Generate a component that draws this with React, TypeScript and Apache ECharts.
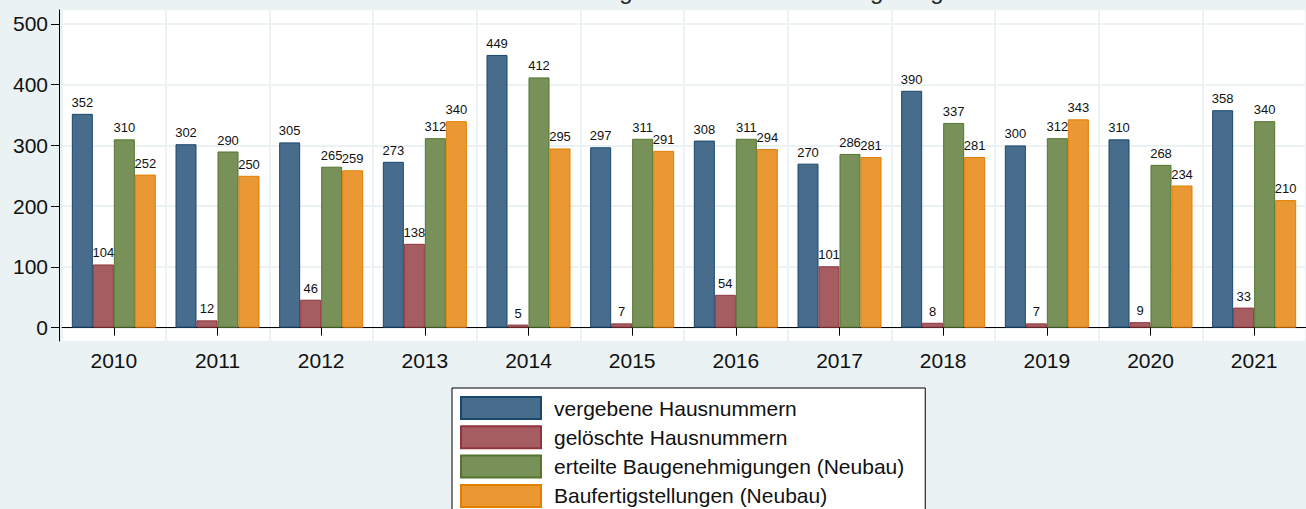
import React, { useEffect, useRef } from "react";
import * as echarts from "echarts";

const years = ["2010", "2011", "2012", "2013", "2014", "2015", "2016", "2017", "2018", "2019", "2020", "2021"];
const vergebene = [352, 302, 305, 273, 449, 297, 308, 270, 390, 300, 310, 358];
const geloeschte = [104, 12, 46, 138, 5, 7, 54, 101, 8, 7, 9, 33];
const baugenehmigungen = [310, 290, 265, 312, 412, 311, 311, 286, 337, 312, 268, 340];
const baufertigstellungen = [252, 250, 259, 340, 295, 291, 294, 281, 281, 343, 234, 210];
const yTicks = [0, 100, 200, 300, 400, 500];
const seriesNames = [
  "vergebene Hausnummern",
  "gelöschte Hausnummern",
  "erteilte Baugenehmigungen (Neubau)",
  "Baufertigstellungen (Neubau)",
];
const titleText = "Hausnummernvergabe und Neubau in Augsburg";

const FONT = "'Liberation Sans', Arial, Helvetica, sans-serif";
const fills = ["#486c8c", "#a65d62", "#779159", "#e99833"];
const borders = ["#1a476f", "#90353b", "#55752f", "#e37e00"];

export default function App() {
  const ref = useRef<HTMLDivElement>(null);
  useEffect(() => {
    if (!ref.current) return;
    const chart = echarts.init(ref.current, null, { renderer: "svg" });
    const datasets = [vergebene, geloeschte, baugenehmigungen, baufertigstellungen];
    chart.setOption({
      animation: false,
      backgroundColor: "#eaf2f3",
      textStyle: { fontFamily: FONT },
      grid: {
        left: 62,
        right: -9,
        top: 10,
        bottom: 168,
        show: true,
        backgroundColor: "#ffffff",
        borderWidth: 0,
        containLabel: false,
      },
      graphic: [
        {
          type: "text",
          x: 686,
          y: 2,
          style: {
            text: titleText,
            font: `24px ${FONT}`,
            fill: "#222",
            textAlign: "center",
            textVerticalAlign: "bottom",
            verticalAlign: "bottom",
          },
        },
      ],
      legend: {
        orient: "vertical",
        left: 452,
        top: 388,
        height: 300,
        backgroundColor: "#ffffff",
        borderColor: "#000",
        borderWidth: 1,
        borderRadius: 0,
        padding: [8, 21, 9, 8],
        itemWidth: 80,
        itemHeight: 22,
        itemGap: 5.3,
        icon: "rect",
        selectedMode: false,
        textStyle: { fontSize: 21, lineHeight: 22, color: "#111", fontFamily: FONT, padding: [0, 0, 0, 8] },
        data: seriesNames,
      },
      xAxis: {
        type: "category",
        data: years,
        axisLine: { show: true, lineStyle: { color: "#000", width: 1 } },
        axisTick: { show: true, alignWithLabel: true, length: 8, lineStyle: { color: "#000" } },
        axisLabel: { fontSize: 21, color: "#111", margin: 9, fontFamily: FONT },
        splitLine: { show: true, interval: 0, lineStyle: { color: "#eaf2f3", width: 2 } },
      },
      yAxis: {
        type: "value",
        min: -22,
        max: 523,
        offset: 3,
        axisLine: { show: true, lineStyle: { color: "#000", width: 1 } },
        axisTick: { show: true, length: 8, customValues: yTicks, lineStyle: { color: "#000" } },
        axisLabel: { fontSize: 21, color: "#111", margin: 11, customValues: yTicks, fontFamily: FONT },
        splitLine: { show: true, lineStyle: { color: "#eaf2f3", width: 2 } },
      },
      series: datasets.map((d, i) => ({
        name: seriesNames[i],
        type: "bar",
        data: d,
        barWidth: 21,
        barGap: "0%",
        itemStyle: { color: fills[i], borderColor: borders[i], borderWidth: 1 },
        label: {
          show: true,
          position: "top",
          distance: 5,
          fontSize: 13,
          color: "#111",
          fontFamily: FONT,
        },
      })),
    });
    return () => chart.dispose();
  }, []);
  return <div ref={ref} style={{ position: "fixed", left: 0, top: 0, width: 1306, height: 509 }} />;
}
